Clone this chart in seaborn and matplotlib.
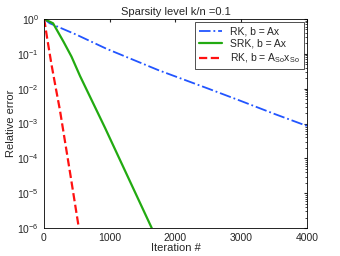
import matplotlib
matplotlib.use("Agg")
import matplotlib.pyplot as plt
import seaborn as sns

rk_iter = [0, 90, 500, 950, 1740, 2500, 3000, 3500, 4000]
rk_err = [1.0, 0.75, 0.35, 0.14, 0.034, 0.01, 0.0044, 0.0019, 0.00085]

srk_iter = [0, 140, 300, 420, 550, 930, 1640]
srk_err = [1.0, 0.75, 0.22, 0.083, 0.023, 0.00075, 0.000001]

rko_iter = [0, 15, 50, 117, 183, 243, 400, 532]
rko_err = [1.0, 0.75, 0.28, 0.048, 0.01, 0.0025, 0.000037, 0.000001]

labels = ["RK, b = Ax", "SRK, b = Ax", r"RK, b = A$_{\mathrm{So}}$x$_{\mathrm{So}}$"]

sns.set_style("white")
plt.rcParams['font.family'] = ['Liberation Sans', 'DejaVu Sans']
plt.rcParams['mathtext.fontset'] = 'custom'
plt.rcParams['mathtext.rm'] = 'Liberation Sans'

fig = plt.figure(figsize=(3.4, 2.56), dpi=100)
ax = fig.add_axes([0.129, 0.109, 0.774, 0.817])

sns.lineplot(x=rk_iter, y=rk_err, ax=ax, color="#2255ff", linestyle="-.", lw=1.3, label=labels[0])
sns.lineplot(x=srk_iter, y=srk_err, ax=ax, color="#22aa11", linestyle="-", lw=1.6, label=labels[1])
sns.lineplot(x=rko_iter, y=rko_err, ax=ax, color="#ff1111", linestyle="--", lw=1.6, label=labels[2])

ax.set_yscale("log")
ax.set_xlim(0, 4000)
ax.set_ylim(1e-6, 1)
ax.set_xticks([0, 1000, 2000, 3000, 4000])
ax.set_yticks([1e-6, 1e-5, 1e-4, 1e-3, 1e-2, 1e-1, 1])
ax.tick_params(direction="in", which="both", top=True, right=True, labelsize=7.5, length=2.5)
ax.tick_params(which="minor", length=1.5)
for s in ax.spines.values():
    s.set_color("black")
    s.set_linewidth(0.6)

ax.set_title("Sparsity level k/n =0.1", fontsize=8, pad=3)
ax.set_xlabel("Iteration #", fontsize=8, labelpad=0)
ax.set_ylabel("Relative error", fontsize=8, labelpad=1)

leg = ax.legend(loc="upper right", fontsize=7.5, frameon=True, fancybox=False,
                borderaxespad=0.3, handlelength=2.2, labelspacing=0.25, borderpad=0.4)
leg.get_frame().set_edgecolor("black")
leg.get_frame().set_linewidth(0.6)

fig.savefig("out.png", dpi=100)
